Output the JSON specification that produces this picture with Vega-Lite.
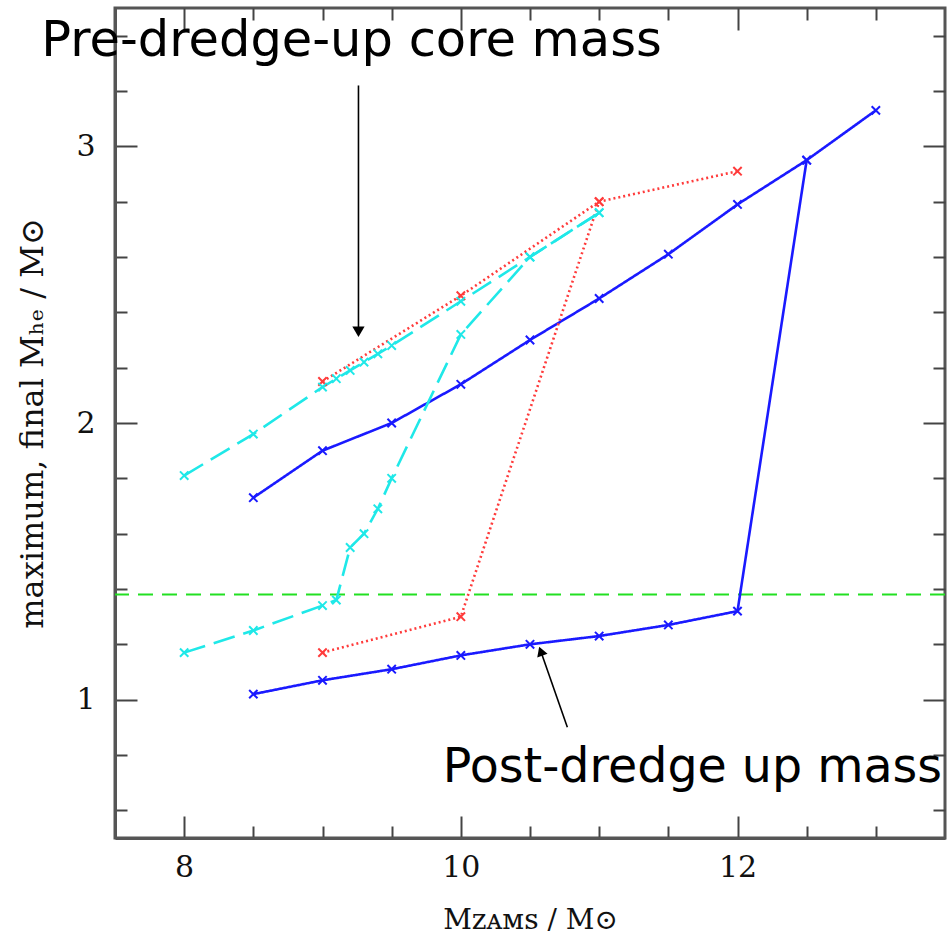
{
  "$schema": "https://vega.github.io/schema/vega-lite/v6.json",
  "width": 830,
  "height": 830,
  "autosize": {"type": "none"},
  "padding": {"left": 115, "top": 8, "right": 5, "bottom": 103},
  "background": "white",
  "config": {
    "view": {"stroke": "#555555", "strokeWidth": 3},
    "axis": {
      "grid": false,
      "domainColor": "#555555",
      "domainWidth": 3,
      "tickColor": "#444444",
      "tickWidth": 2,
      "labelFont": "DejaVu Serif",
      "labelFontSize": 30,
      "labelColor": "#111111",
      "titleFont": "DejaVu Serif",
      "titleFontSize": 28,
      "titleFontWeight": "normal",
      "titleColor": "#111111"
    }
  },
  "datasets": {
    "tracks": [
      {"track": "blue_pre", "m": 8.5, "mhe": 1.73},
      {"track": "blue_pre", "m": 9.0, "mhe": 1.90},
      {"track": "blue_pre", "m": 9.5, "mhe": 2.00},
      {"track": "blue_pre", "m": 10.0, "mhe": 2.14},
      {"track": "blue_pre", "m": 10.5, "mhe": 2.30},
      {"track": "blue_pre", "m": 11.0, "mhe": 2.45},
      {"track": "blue_pre", "m": 11.5, "mhe": 2.61},
      {"track": "blue_pre", "m": 12.0, "mhe": 2.79},
      {"track": "blue_pre", "m": 12.5, "mhe": 2.95},
      {"track": "blue_pre", "m": 13.0, "mhe": 3.13},
      {"track": "blue_post", "m": 8.5, "mhe": 1.02},
      {"track": "blue_post", "m": 9.0, "mhe": 1.07},
      {"track": "blue_post", "m": 9.5, "mhe": 1.11},
      {"track": "blue_post", "m": 10.0, "mhe": 1.16},
      {"track": "blue_post", "m": 10.5, "mhe": 1.20},
      {"track": "blue_post", "m": 11.0, "mhe": 1.23},
      {"track": "blue_post", "m": 11.5, "mhe": 1.27},
      {"track": "blue_post", "m": 12.0, "mhe": 1.32},
      {"track": "blue_post", "m": 12.5, "mhe": 2.95},
      {"track": "red_pre", "m": 9.0, "mhe": 2.15},
      {"track": "red_pre", "m": 10.0, "mhe": 2.46},
      {"track": "red_pre", "m": 11.0, "mhe": 2.80},
      {"track": "red_post", "m": 9.0, "mhe": 1.17},
      {"track": "red_post", "m": 10.0, "mhe": 1.30},
      {"track": "red_post", "m": 11.0, "mhe": 2.80},
      {"track": "red_post", "m": 12.0, "mhe": 2.91},
      {"track": "cyan_pre", "m": 8.0, "mhe": 1.81},
      {"track": "cyan_pre", "m": 8.5, "mhe": 1.96},
      {"track": "cyan_pre", "m": 9.0, "mhe": 2.13},
      {"track": "cyan_pre", "m": 9.1, "mhe": 2.16},
      {"track": "cyan_pre", "m": 9.2, "mhe": 2.19},
      {"track": "cyan_pre", "m": 9.3, "mhe": 2.22},
      {"track": "cyan_pre", "m": 9.4, "mhe": 2.25},
      {"track": "cyan_pre", "m": 9.5, "mhe": 2.28},
      {"track": "cyan_pre", "m": 10.0, "mhe": 2.44},
      {"track": "cyan_pre", "m": 10.5, "mhe": 2.60},
      {"track": "cyan_pre", "m": 11.0, "mhe": 2.76},
      {"track": "cyan_post", "m": 8.0, "mhe": 1.17},
      {"track": "cyan_post", "m": 8.5, "mhe": 1.25},
      {"track": "cyan_post", "m": 9.0, "mhe": 1.34},
      {"track": "cyan_post", "m": 9.1, "mhe": 1.36},
      {"track": "cyan_post", "m": 9.2, "mhe": 1.55},
      {"track": "cyan_post", "m": 9.3, "mhe": 1.60},
      {"track": "cyan_post", "m": 9.4, "mhe": 1.69},
      {"track": "cyan_post", "m": 9.5, "mhe": 1.80},
      {"track": "cyan_post", "m": 10.0, "mhe": 2.32},
      {"track": "cyan_post", "m": 10.5, "mhe": 2.60},
      {"track": "cyan_post", "m": 11.0, "mhe": 2.76}
    ],
    "limit": [{"mhe": 1.38}],
    "arrows": [
      {"arrow": "pre", "m": 9.26, "mhe": 3.22, "m2": 9.26, "mhe2": 2.33},
      {"arrow": "post", "m": 10.77, "mhe": 0.90, "m2": 10.578, "mhe2": 1.175}
    ],
    "notes": [
      {"label": "Pre-dredge-up core mass", "m": 6.967, "mhe": 3.3255, "size": "big"},
      {"label": "Post-dredge up mass", "m": 9.87, "mhe": 0.7034, "size": "small"}
    ]
  },
  "layer": [
    {
      "data": {"name": "limit"},
      "mark": {"type": "rule", "color": "#22e022", "strokeWidth": 2, "strokeDash": [15, 9]},
      "encoding": {
        "y": {"field": "mhe", "type": "quantitative", "scale": {"domain": [0.5, 3.5], "nice": false, "zero": false}, "axis": null}
      }
    },
    {
      "data": {"name": "tracks"},
      "mark": {"type": "line", "strokeWidth": 2.6},
      "encoding": {
        "x": {
          "field": "m", "type": "quantitative",
          "scale": {"domain": [7.5, 13.5], "nice": false, "zero": false},
          "axis": {
            "orient": "bottom",
            "values": [8, 8.5, 9, 9.5, 10, 10.5, 11, 11.5, 12, 12.5, 13],
            "labelExpr": "datum.value % 2 === 0 ? format(datum.value, 'd') : ''",
            "tickSize": {"condition": {"test": "datum.value % 2 === 0", "value": -22}, "value": -12},
            "labelPadding": 36,
            "labelFlush": false,
            "labelOverlap": false,
            "title": "Mᴢᴀᴍꜱ / M⊙",
            "titlePadding": 14
          }
        },
        "y": {
          "field": "mhe", "type": "quantitative",
          "scale": {"domain": [0.5, 3.5], "nice": false, "zero": false},
          "axis": {
            "orient": "left",
            "values": [0.6, 0.8, 1, 1.2, 1.4, 1.6, 1.8, 2, 2.2, 2.4, 2.6, 2.8, 3, 3.2, 3.4],
            "labelExpr": "datum.value % 1 === 0 ? format(datum.value, 'd') : ''",
            "tickSize": {"condition": {"test": "datum.value % 1 === 0", "value": -22}, "value": -12},
            "labelPadding": 42,
            "labelFlush": false,
            "labelOverlap": false,
            "title": "maximum, final Mₕₑ / M⊙",
            "titleFontSize": 32,
            "titlePadding": 26
          }
        },
        "color": {
          "field": "track", "type": "nominal",
          "scale": {"domain": ["blue_pre", "blue_post", "red_pre", "red_post", "cyan_pre", "cyan_post"], "range": ["#1a1aff", "#1a1aff", "#ff3b3b", "#ff3b3b", "#1fe8e8", "#1fe8e8"]},
          "legend": null
        },
        "strokeDash": {
          "field": "track", "type": "nominal",
          "scale": {"domain": ["blue_pre", "blue_post", "red_pre", "red_post", "cyan_pre", "cyan_post"], "range": [[1, 0], [1, 0], [2, 3], [2, 3], [22, 9], [22, 9]]},
          "legend": null
        },
        "strokeWidth": {
          "field": "track", "type": "nominal",
          "scale": {"domain": ["blue_pre", "blue_post", "red_pre", "red_post", "cyan_pre", "cyan_post"], "range": [2.6, 2.6, 2.6, 2.6, 3.2, 3.2]},
          "legend": null
        }
      }
    },
    {
      "data": {"name": "tracks"},
      "mark": {"type": "point", "shape": "M-1,-1L1,1M-1,1L1,-1", "filled": false, "size": 70, "strokeWidth": 2, "opacity": 1},
      "encoding": {
        "x": {
          "field": "m", "type": "quantitative",
          "axis": {
            "orient": "top",
            "values": [8, 8.5, 9, 9.5, 10, 10.5, 11, 11.5, 12, 12.5, 13],
            "labels": false,
            "domain": false,
            "tickSize": {"condition": {"test": "datum.value % 2 === 0", "value": -22}, "value": -12},
            "title": null
          }
        },
        "y": {
          "field": "mhe", "type": "quantitative",
          "axis": {
            "orient": "right",
            "values": [0.6, 0.8, 1, 1.2, 1.4, 1.6, 1.8, 2, 2.2, 2.4, 2.6, 2.8, 3, 3.2, 3.4],
            "labels": false,
            "domain": false,
            "tickSize": {"condition": {"test": "datum.value % 1 === 0", "value": -22}, "value": -12},
            "title": null
          }
        },
        "color": {"field": "track", "type": "nominal", "legend": null}
      }
    },
    {
      "data": {"name": "arrows"},
      "mark": {"type": "rule", "color": "black", "strokeWidth": 1.6},
      "encoding": {
        "x": {"field": "m", "type": "quantitative", "axis": null},
        "y": {"field": "mhe", "type": "quantitative", "axis": null},
        "x2": {"field": "m2"},
        "y2": {"field": "mhe2"}
      }
    },
    {
      "data": {"name": "arrows"},
      "transform": [{"filter": "datum.arrow === 'pre'"}],
      "mark": {"type": "point", "shape": "triangle-down", "filled": true, "color": "black", "size": 150, "opacity": 1},
      "encoding": {
        "x": {"field": "m2", "type": "quantitative", "axis": null},
        "y": {"field": "mhe2", "type": "quantitative", "axis": null}
      }
    },
    {
      "data": {"name": "arrows"},
      "transform": [{"filter": "datum.arrow === 'post'"}],
      "mark": {"type": "point", "shape": "triangle-up", "angle": 340, "filled": true, "color": "black", "size": 120, "opacity": 1},
      "encoding": {
        "x": {"field": "m2", "type": "quantitative", "axis": null},
        "y": {"field": "mhe2", "type": "quantitative", "axis": null}
      }
    },
    {
      "data": {"name": "notes"},
      "transform": [{"filter": "datum.size === 'big'"}],
      "mark": {"type": "text", "font": "DejaVu Sans", "fontSize": 49.5, "align": "left", "baseline": "alphabetic", "color": "black"},
      "encoding": {
        "x": {"field": "m", "type": "quantitative", "axis": null},
        "y": {"field": "mhe", "type": "quantitative", "axis": null},
        "text": {"field": "label"}
      }
    },
    {
      "data": {"name": "notes"},
      "transform": [{"filter": "datum.size === 'small'"}],
      "mark": {"type": "text", "font": "DejaVu Sans", "fontSize": 47.5, "align": "left", "baseline": "alphabetic", "color": "black"},
      "encoding": {
        "x": {"field": "m", "type": "quantitative", "axis": null},
        "y": {"field": "mhe", "type": "quantitative", "axis": null},
        "text": {"field": "label"}
      }
    }
  ],
  "resolve": {"axis": {"x": "independent", "y": "independent"}}
}
